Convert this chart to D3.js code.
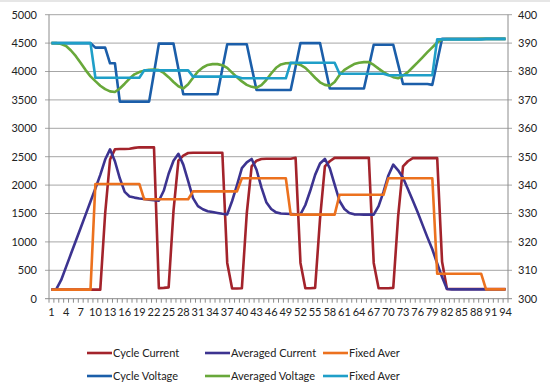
<!DOCTYPE html>
<html>
<head>
<meta charset="utf-8">
<script src="https://cdnjs.cloudflare.com/ajax/libs/d3/7.8.5/d3.min.js"></script>
<style>
  body { margin: 0; background: #fff; }
  svg { display: block; }
  text { font-family: Lato, "Open Sans", sans-serif; font-size: 11px; fill: #222; }
</style>
</head>
<body>
<div id="chart"></div>
<script>
// categories 1..94, label every third one
var categories = d3.range(1, 95);
var xLabelStep = 3;

var leftTicks = [0, 500, 1000, 1500, 2000, 2500, 3000, 3500, 4000, 4500, 5000];
var rightTicks = [300, 310, 320, 330, 340, 350, 360, 370, 380, 390, 400];

// current series (left axis)
var cycleCurrent = [
  160,160,160,160,160,160,160,160,160,160,160,
  1500,2450,2630,2635,2635,2640,2655,2665,2665,2665,2665,
  185,190,200,1550,2430,2520,2565,
  2570,2570,2570,2570,2570,2570,2570,
  630,180,180,185,1500,2330,2430,2460,
  2465,2465,2465,2465,2465,2465,
  2480,630,185,185,190,1400,2330,2420,
  2480,2480,2480,2480,2480,2480,2480,2480,
  630,185,185,185,190,1450,2330,2420,
  2475,2475,2475,2475,2475,2475,
  650,
  170,170,170,170,170,170,170,170,170,170,170,170,170
];
var averagedCurrent = [
  160,170,330,560,790,1020,1250,1480,1710,1940,
  2180,2450,2630,2420,2120,1880,1800,1780,1765,1755,
  1745,1735,1725,1900,2200,2430,2550,2360,2070,1770,
  1630,1575,1540,1525,1510,1495,1485,1720,2000,2300,
  2400,2460,2270,1960,1700,1580,1520,1500,1495,1490,
  1485,1485,1650,1900,2180,2380,2460,2300,2010,1720,
  1580,1510,1485,1483,1480,1480,1480,1630,1880,2170,
  2360,2260,2130,1930,1730,1520,1300,1080,870,620,
  380,170,165,165,165,165,165,165,165,165,
  165,165,165,165
];
var fixedCurrent = [
  160,160,160,160,160,160,160,160,160,
  2020,2020,2020,2020,2020,2020,2020,2020,2020,2020,
  1750,1750,1750,1750,1750,1750,1750,1750,1750,1750,
  1890,1890,1890,1890,1890,1890,1890,1890,1890,1890,
  2120,2120,2120,2120,2120,2120,2120,2120,2120,2120,
  1480,1480,1480,1480,1480,1480,1480,1480,1480,1480,
  1830,1830,1830,1830,1830,1830,1830,1830,1830,1830,
  2120,2120,2120,2120,2120,2120,2120,2120,2120,2120,
  440,440,440,440,440,440,440,440,440,440,
  165,165,165,165,165
];

// voltage series (right axis)
var cycleVoltage = [
  390,390,390,390,390,390,390,390,390,
  388.4,388.4,388.4,
  382.9,382.9,
  369.4,369.4,369.4,369.4,369.4,369.4,369.4,
  379.5,
  389.8,389.8,389.8,389.8,
  381,
  372,372,372,372,372,372,372,372,
  381,
  389.6,389.6,389.6,389.6,389.6,
  381.5,
  373.5,373.5,373.5,373.5,373.5,373.5,373.5,373.5,
  381.7,
  390,390,390,390,390,
  382,
  374,374,374,374,374,374,374,374,
  381.7,
  389.4,389.4,389.4,389.4,389.4,
  382.5,
  375.6,375.6,375.6,375.6,375.6,375.6,
  375.3,
  383.5,
  391.5,391.5,391.5,391.5,391.5,391.5,391.5,391.5,391.5,391.5,391.5,391.5,391.5,391.5
];
var averagedVoltage = [
  390,390,389.7,389,387.4,385.4,383,380.5,378.3,376.6,
  375,373.8,373,372.8,374,375.7,377.5,379,379.8,380.3,
  380.6,380.7,380.5,379.5,378,376.3,374.8,374,375.5,377.8,
  380,381.4,382.3,382.6,382.6,382.2,381.3,379.6,378,376.5,
  375.3,374.6,374.3,375.2,377,379.3,381.3,382.5,382.9,383,
  382.9,382.3,381.3,379.6,377.8,376.2,375.3,375,376.3,378.8,
  380.6,381.6,382.6,383.1,383.3,383.3,382.3,381,379.8,378.8,
  378,377.6,378.6,379.8,381.5,383.2,385,386.8,388.5,390.2,
  391.3,391.4,391.4,391.4,391.4,391.4,391.4,391.4,391.5,391.5,
  391.5,391.5,391.5,391.5
];
var fixedVoltage = [
  390,390,390,390,390,390,390,390,390,
  377.8,377.8,377.8,377.8,377.8,377.8,377.8,377.8,377.8,377.8,
  380.4,380.4,380.4,380.4,380.4,380.4,380.4,380.4,380.4,380.4,
  378.2,378.2,378.2,378.2,378.2,378.2,378.2,378.2,378.2,378.2,
  377.6,377.6,377.6,377.6,377.6,377.6,377.6,377.6,377.6,377.6,
  383.1,383.1,383.1,383.1,383.1,383.1,383.1,383.1,383.1,383.1,
  379.2,379.2,379.2,379.2,379.2,379.2,379.2,379.2,379.2,379.2,
  378.7,378.7,378.7,378.7,378.7,378.7,378.7,378.7,378.7,378.7,
  391.3,391.3,391.3,391.3,391.3,391.3,391.3,391.3,391.3,391.3,
  391.5,391.5,391.5,391.5,391.5
];

var series = [
  {name: "Cycle Current", values: cycleCurrent, axis: "left", colour: "#a3232b"},
  {name: "Averaged Current", values: averagedCurrent, axis: "left", colour: "#3c3390"},
  {name: "Fixed Aver", values: fixedCurrent, axis: "left", colour: "#ec711e"},
  {name: "Cycle Voltage", values: cycleVoltage, axis: "right", colour: "#1b5ea9"},
  {name: "Averaged Voltage", values: averagedVoltage, axis: "right", colour: "#68a83a"},
  {name: "Fixed Aver", values: fixedVoltage, axis: "right", colour: "#1f9fc8"}
];

var svgwidth = 550, svgheight = 389;
var plot = {left: 49, right: 508, top: 14.7, bottom: 298.7};

var svg = d3.select("#chart").append("svg")
  .attr("width", svgwidth)
  .attr("height", svgheight);

svg.append("rect").attr("x", 0).attr("y", 0).attr("width", svgwidth).attr("height", 2).attr("fill", "#e6e6e6");

var x = d3.scalePoint()
  .domain(categories)
  .range([plot.left, plot.right])
  .padding(0.5);

var yLeft = d3.scaleLinear().domain([0, 5000]).range([plot.bottom, plot.top]);
var yRight = d3.scaleLinear().domain([300, 400]).range([plot.bottom, plot.top]);

// gridlines
svg.append("g")
  .selectAll("line")
  .data(leftTicks.slice(1))
  .enter().append("line")
  .attr("x1", plot.left - 4)
  .attr("x2", plot.right + 4)
  .attr("y1", function(d) { return yLeft(d); })
  .attr("y2", function(d) { return yLeft(d); })
  .attr("stroke", "#a6a6a6")
  .attr("stroke-width", 1);

// axis lines
svg.append("line")
  .attr("x1", plot.left).attr("x2", plot.left)
  .attr("y1", plot.top).attr("y2", plot.bottom)
  .attr("stroke", "#8c8c8c");
svg.append("line")
  .attr("x1", plot.right).attr("x2", plot.right)
  .attr("y1", plot.top).attr("y2", plot.bottom)
  .attr("stroke", "#8c8c8c");
svg.append("line")
  .attr("x1", plot.left - 4).attr("x2", plot.right + 4)
  .attr("y1", plot.bottom).attr("y2", plot.bottom)
  .attr("stroke", "#8c8c8c");

// category tick marks between points
var step = x.step();
svg.append("g")
  .selectAll("line")
  .data(d3.range(categories.length + 1))
  .enter().append("line")
  .attr("x1", function(k) { return plot.left + k * step; })
  .attr("x2", function(k) { return plot.left + k * step; })
  .attr("y1", plot.bottom)
  .attr("y2", plot.bottom + 4)
  .attr("stroke", "#8c8c8c");

// axis labels
svg.append("g")
  .selectAll("text")
  .data(leftTicks)
  .enter().append("text")
  .attr("x", 37)
  .attr("y", function(d) { return yLeft(d); })
  .attr("dy", "0.35em")
  .attr("text-anchor", "end")
  .text(function(d) { return d; });

svg.append("g")
  .selectAll("text")
  .data(rightTicks)
  .enter().append("text")
  .attr("x", 518)
  .attr("y", function(d) { return yRight(d); })
  .attr("dy", "0.35em")
  .attr("text-anchor", "start")
  .text(function(d) { return d; });

svg.append("g")
  .selectAll("text")
  .data(categories.filter(function(d, i) { return i % xLabelStep == 0; }))
  .enter().append("text")
  .attr("x", function(d) { return x(d); })
  .attr("y", 316)
  .attr("text-anchor", "middle")
  .text(function(d) { return d; });

// lines
series.forEach(function(s) {
  var yScale = s.axis == "left" ? yLeft : yRight;
  var line = d3.line()
    .x(function(d, i) { return x(categories[i]); })
    .y(function(d) { return yScale(d); });
  svg.append("path")
    .datum(s.values)
    .attr("d", line)
    .attr("fill", "none")
    .attr("stroke", s.colour)
    .attr("stroke-width", 2.6)
    .attr("stroke-linejoin", "round");
});

// legend, two rows of three
var legendCols = [87, 205, 323];
var legendRows = [353, 376];

var legend = svg.append("g")
  .selectAll("g")
  .data(series)
  .enter().append("g")
  .attr("transform", function(d, i) {
    var col = i % 3, row = Math.floor(i / 3);
    return "translate(" + legendCols[col] + "," + legendRows[row] + ")";
  });

legend.append("line")
  .attr("x1", 0).attr("x2", 25)
  .attr("y1", 0).attr("y2", 0)
  .attr("stroke", function(d) { return d.colour; })
  .attr("stroke-width", 2.6);

legend.append("text")
  .attr("x", 26)
  .attr("y", 0)
  .attr("dy", "0.35em")
  .text(function(d) { return d.name; });
</script>
</body>
</html>
